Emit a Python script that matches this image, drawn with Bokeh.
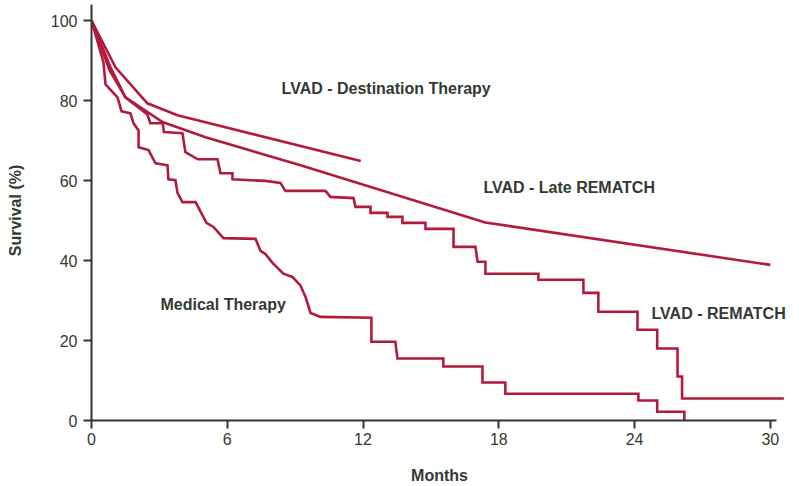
import math
from bokeh.plotting import figure
from bokeh.models import Range1d, FixedTicker, Label
from bokeh.embed import file_html
from bokeh.resources import INLINE

# ---- data (months, survival %) ----
x_ticks = [0, 6, 12, 18, 24, 30]
y_ticks = [0, 20, 40, 60, 80, 100]

dest_months = [0, 1.06, 2.47, 3.8, 11.9]
dest_surv = [100, 88.3, 79.3, 76.3, 64.9]

late_months = [0, 0.84, 1.5, 3.14, 5.04, 9.24, 17.4, 30.0]
late_surv = [100, 88.3, 80.8, 74.6, 70.8, 63.8, 49.5, 38.9]

rematch_months = [0, 0.8, 1.5, 2.47, 2.6, 3.15, 3.2, 4.02, 4.15, 4.7,
                  5.57, 5.7, 6.23, 6.23, 7.69, 8.35, 8.57, 10.34, 10.56, 11.58,
                  11.67, 12.33, 12.33, 13.08, 13.08, 13.74, 13.74, 14.76, 14.76, 16.0,
                  16.0, 16.97, 17.06, 17.41, 17.41, 19.75, 19.75, 21.74, 21.74, 22.4,
                  22.4, 24.13, 24.13, 25.0, 25.0, 25.9, 25.9, 26.1, 26.1, 30.6]
rematch_surv = [100, 87.5, 80.8, 76.5, 74.3, 74.3, 72.1, 71.8, 67.1, 65.3,
                65.3, 61.8, 61.8, 60.3, 59.9, 59.4, 57.4, 57.4, 55.9, 55.6,
                53.4, 53.4, 51.9, 51.9, 50.9, 50.9, 49.4, 49.4, 47.9, 47.9,
                43.4, 43.4, 39.7, 39.7, 36.7, 36.7, 35.2, 35.2, 31.9, 31.9,
                27.2, 27.2, 22.7, 22.7, 18.0, 18.0, 11.0, 11.0, 5.5, 5.5]

med_months = [0, 0.53, 0.62, 1.15, 1.33, 1.72, 1.86, 2.08, 2.08, 2.52,
              2.83, 3.36, 3.4, 3.71, 3.8, 4.02, 4.6, 5.08, 5.39, 5.83,
              7.25, 7.47, 7.69, 8.0, 8.48, 8.88, 9.24, 9.46, 9.68, 10.12,
              12.37, 12.37, 13.43, 13.52, 15.55, 15.55, 17.28, 17.28, 18.29, 18.29,
              24.17, 24.17, 25.0, 25.0, 26.2, 26.2]
med_surv = [100, 89.5, 84.0, 80.8, 77.3, 76.8, 74.3, 72.5, 68.3, 67.6,
            64.3, 63.8, 60.3, 60.1, 56.9, 54.6, 54.6, 49.4, 48.4, 45.6,
            45.4, 42.4, 41.6, 39.4, 36.7, 35.9, 33.7, 30.9, 26.9, 25.9,
            25.7, 19.7, 19.7, 15.5, 15.5, 13.5, 13.5, 9.5, 9.5, 6.7,
            6.7, 5.0, 5.0, 2.2, 2.2, 0]

series_labels = ["LVAD - Destination Therapy", "LVAD - Late REMATCH",
                 "Medical Therapy", "LVAD - REMATCH"]
label_x = [8.40, 17.32, 3.05, 24.75]
label_y = [83.0, 58.35, 28.9, 26.7]

LINE = "#b31b3d"
TXT = "#333a33"
AX = "#2f382f"
FONT = "Liberation Sans"

p = figure(width=792, height=486, output_backend="svg", toolbar_location=None,
           x_range=Range1d(0, 30.76), y_range=Range1d(0, 105),
           min_border_left=91, min_border_right=5, min_border_top=0,
           min_border_bottom=65)
p.outline_line_color = None
p.xgrid.visible = False
p.ygrid.visible = False
p.background_fill_color = "white"
p.border_fill_color = "white"

for xs, ys in [(dest_months, dest_surv), (late_months, late_surv),
               (rematch_months, rematch_surv), (med_months, med_surv)]:
    p.line(xs, ys, line_color=LINE, line_width=2.6, line_join="miter")

for ax in (p.xaxis[0], p.yaxis[0]):
    ax.axis_line_color = AX
    ax.axis_line_width = 2
    ax.major_tick_line_color = AX
    ax.major_tick_line_width = 2
    ax.major_tick_out = 8
    ax.major_tick_in = 0
    ax.minor_tick_line_color = None
    ax.major_label_text_font = FONT
    ax.major_label_text_font_size = "16px"
    ax.major_label_text_color = TXT
    ax.axis_label_text_font = FONT
    ax.axis_label_text_font_size = "16px"
    ax.axis_label_text_font_style = "bold"
    ax.axis_label_text_color = TXT

p.xaxis.ticker = FixedTicker(ticks=x_ticks)
p.yaxis.ticker = FixedTicker(ticks=y_ticks)
p.xaxis.bounds = (0, 30.27)
p.yaxis.bounds = (0, 104)
p.xaxis.major_label_standoff = 4
p.yaxis.major_label_standoff = 6

p.xaxis.axis_label = "Months"
p.xaxis.axis_label_standoff = 19
p.yaxis.axis_label = "Survival (%)"
p.yaxis.axis_label_standoff = 24

for t, lx, ly in zip(series_labels, label_x, label_y):
    p.add_layout(Label(x=lx, y=ly, text=t, text_font=FONT, text_font_size="16px",
                       text_font_style="bold", text_color=TXT,
                       text_baseline="middle", text_align="left"))

open("out.html", "w").write(file_html(p, INLINE))
